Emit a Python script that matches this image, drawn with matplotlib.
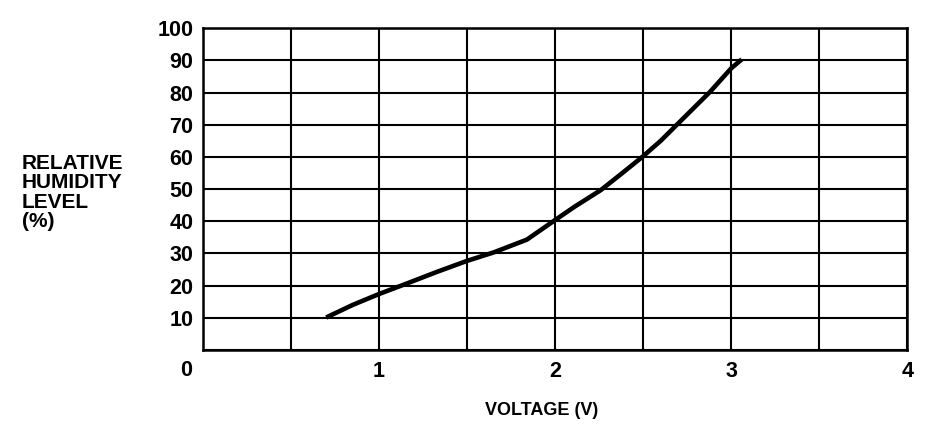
import numpy as np
import matplotlib
matplotlib.use('Agg')
import matplotlib.pyplot as plt

plt.rcParams['font.family'] = ['Liberation Sans', 'DejaVu Sans']
plt.rcParams['font.weight'] = 'bold'

# curve
voltage = [0.70, 0.85, 1.0, 1.15, 1.33, 1.50, 1.65, 1.84, 1.99,
           2.11, 2.26, 2.38, 2.50, 2.60, 2.69, 2.88, 3.0, 3.06]
humidity = [10.1, 14.0, 17.4, 20.5, 24.3, 27.7, 30.3, 34.3, 40.0,
            44.5, 49.7, 54.9, 60.2, 65.0, 69.9, 80.2, 87.5, 90.3]

x_grid = [0, 0.5, 1, 1.5, 2, 2.5, 3, 3.5, 4]
x_labels = ['', '', '1', '', '2', '', '3', '', '4']
y_ticks = [0, 10, 20, 30, 40, 50, 60, 70, 80, 90, 100]
y_labels = ['', '10', '20', '30', '40', '50', '60', '70', '80', '90', '100']

fig = plt.figure(figsize=(9.44, 4.40), dpi=100)
ax = fig.add_axes([0.215, 0.2045, 0.746, 0.7315])

ax.plot(voltage, humidity, color='black', lw=3.3, solid_capstyle='butt',
        solid_joinstyle='round')

ax.set_xlim(0, 4)
ax.set_ylim(0, 100)
ax.set_xticks(x_grid)
ax.set_xticklabels(x_labels)
ax.set_yticks(y_ticks)
ax.set_yticklabels(y_labels)
ax.tick_params(length=0, labelsize=15.5, pad=7)
ax.tick_params(axis='x', pad=8)
ax.grid(True, color='black', lw=1.5)
for s in ax.spines.values():
    s.set_linewidth(1.8)

ax.annotate('0', xy=(0, 0), xycoords='data', xytext=(-17, -20),
            textcoords='offset pixels', ha='center', va='center',
            fontsize=15.5, fontweight='bold')

fig.text(22 / 944, 1 - 154 / 440, 'RELATIVE\nHUMIDITY\nLEVEL\n(%)',
         ha='left', va='top', fontsize=15, fontweight='bold',
         linespacing=1.03)
fig.text(542 / 944, 1 - 410 / 440, 'VOLTAGE (V)', ha='center', va='center',
         fontsize=13, fontweight='bold')

fig.savefig('out.png', dpi=100)
